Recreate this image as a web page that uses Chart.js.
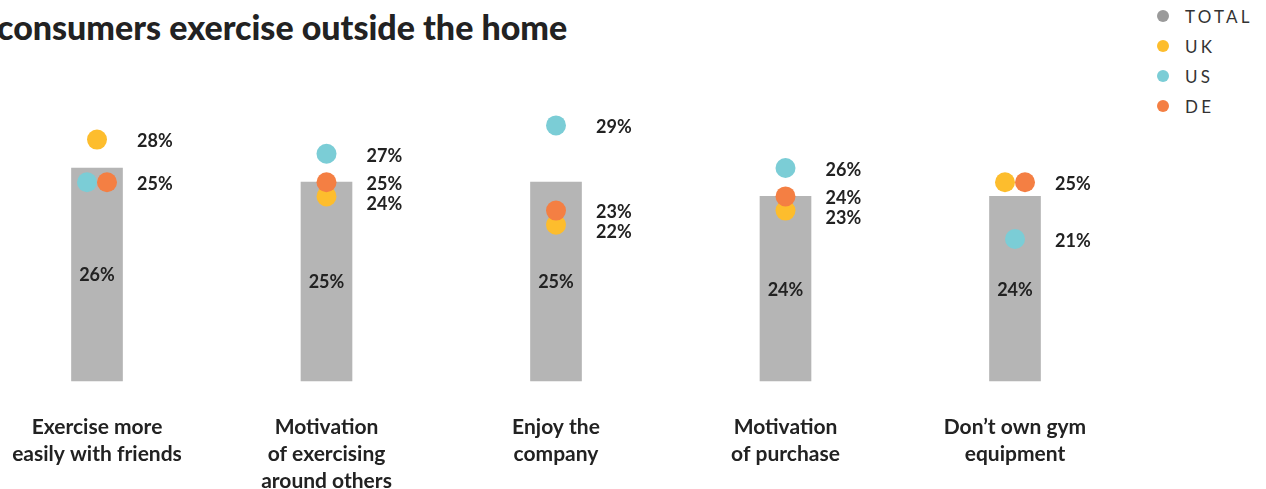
<!DOCTYPE html>
<html>
<head>
<meta charset="utf-8">
<script src="https://cdn.jsdelivr.net/npm/chart.js@4.4.1/dist/chart.umd.min.js"></script>
<style>
  html, body { margin: 0; padding: 0; background: #fff; overflow: hidden; }
  #wrap { position: relative; width: 1266px; height: 489px; }
  #chart-1 { position: absolute; left: 0; top: 0; }
  h1 {
    position: absolute; left: -3px; top: 10px; margin: 0;
    font: 900 34px/34px Lato, sans-serif; color: #222; white-space: nowrap;
  }
  #legend { position: absolute; left: 1157px; top: 1px; margin: 0; padding: 0; list-style: none; }
  #legend li {
    height: 30px; display: flex; align-items: center;
    font: 400 17px Lato, sans-serif; letter-spacing: 3.2px; color: #333;
  }
  #legend span { width: 12px; height: 12px; border-radius: 50%; margin-right: 16px; }
</style>
</head>
<body>
<div id="wrap">
  <h1>consumers exercise outside the home</h1>
  <ul id="legend"></ul>
  <canvas id="chart-1" width="1266" height="489"></canvas>
</div>
<script>
// categories and values (%)
const categories = [
  ["Exercise more", "easily with friends"],
  ["Motivation", "of exercising", "around others"],
  ["Enjoy the", "company"],
  ["Motivation", "of purchase"],
  ["Don\u2019t own gym", "equipment"],
];
const totalValues = [26, 25, 25, 24, 24];
const ukValues = [28, 24, 22, 23, 25];
const usValues = [25, 27, 29, 26, 21];
const deValues = [25, 25, 23, 24, 25];

const seriesNames = ["TOTAL", "UK", "US", "DE"];
const seriesColors = ["#9a9a9a", "#fdbd2d", "#7bcdd6", "#f47f43"];
const barColor = "#b5b5b5";

// value axis range
const Y_MIN = 11;
const Y_MAX = 36;

// legend
const legend = document.getElementById("legend");
seriesNames.forEach((name, i) => {
  const li = document.createElement("li");
  const dot = document.createElement("span");
  dot.style.background = seriesColors[i];
  li.appendChild(dot);
  li.appendChild(document.createTextNode(name));
  legend.appendChild(li);
});

const DOT_DATASETS = [1, 2, 3];

// push apart dots that share the same value in one category
const spreadTies = {
  id: "spreadTies",
  afterDatasetsUpdate(chart) {
    const n = chart.data.labels.length;
    for (let i = 0; i < n; i++) {
      const groups = {};
      DOT_DATASETS.forEach((d) => {
        const v = chart.data.datasets[d].data[i];
        (groups[v] = groups[v] || []).push(d);
      });
      Object.values(groups).forEach((g) => {
        if (g.length < 2) return;
        g.forEach((d, k) => {
          const el = chart.getDatasetMeta(d).data[i];
          el.x += (k - (g.length - 1) / 2) * 20;
        });
      });
    }
  },
};

// percentage labels: inside bars, and to the right of the dots
const valueLabels = {
  id: "valueLabels",
  afterDatasetsDraw(chart) {
    const ctx = chart.ctx;
    const xScale = chart.scales.x;
    const yScale = chart.scales.y;
    ctx.save();
    ctx.font = "700 18px Lato, sans-serif";
    ctx.fillStyle = "#222";
    ctx.textBaseline = "middle";

    ctx.textAlign = "center";
    chart.getDatasetMeta(0).data.forEach((bar, i) => {
      ctx.fillText(totalValues[i] + "%", bar.x, (bar.y + bar.base) / 2 + 1);
    });

    ctx.textAlign = "left";
    for (let i = 0; i < chart.data.labels.length; i++) {
      const vals = [...new Set(DOT_DATASETS.map((d) => chart.data.datasets[d].data[i]))];
      const items = vals
        .map((v) => ({ v, y: yScale.getPixelForValue(v) }))
        .sort((a, b) => a.y - b.y);
      for (let k = 1; k < items.length; k++) {
        if (items[k].y - items[k - 1].y < 20) items[k].y = items[k - 1].y + 20;
      }
      const x = xScale.getPixelForValue(i) + 40;
      items.forEach((it) => ctx.fillText(it.v + "%", x, it.y + 2));
    }
    ctx.restore();
  },
};

function dotSet(label, data, color, order) {
  return {
    type: "line",
    label,
    data,
    showLine: false,
    pointRadius: 10,
    pointHoverRadius: 12, // keeps the side-shifted dots inside the draw margin
    pointBorderWidth: 0,
    pointBackgroundColor: color,
    backgroundColor: color,
    order,
    clip: false,
  };
}

const ctx1 = document.getElementById("chart-1").getContext("2d");
const myChart = new Chart(ctx1, {
  type: "bar",
  data: {
    labels: categories,
    datasets: [
      {
        label: seriesNames[0],
        data: totalValues,
        base: Y_MIN,
        backgroundColor: barColor,
        barThickness: 51,
        order: 4,
        clip: false,
      },
      dotSet(seriesNames[1], ukValues, seriesColors[1], 3),
      dotSet(seriesNames[2], usValues, seriesColors[2], 2),
      dotSet(seriesNames[3], deValues, seriesColors[3], 1),
    ],
  },
  options: {
    responsive: false,
    animation: false,
    events: [],
    layout: { padding: { left: 97, right: 251, top: 26, bottom: 0 } },
    plugins: { legend: { display: false }, tooltip: { enabled: false } },
    scales: {
      x: {
        offset: false,
        grid: { display: false, drawTicks: false },
        border: { display: false },
        ticks: {
          padding: 33,
          autoSkip: false,
          maxRotation: 0,
          color: "#222",
          font: { family: "Lato", size: 21, weight: "700", lineHeight: 1.29 },
        },
        afterFit(scale) {
          scale.height = 108;
          scale.paddingLeft = 0;
          scale.paddingRight = 0;
        },
      },
      y: { display: false, min: Y_MIN, max: Y_MAX },
    },
  },
  plugins: [spreadTies, valueLabels],
});
</script>
</body>
</html>
